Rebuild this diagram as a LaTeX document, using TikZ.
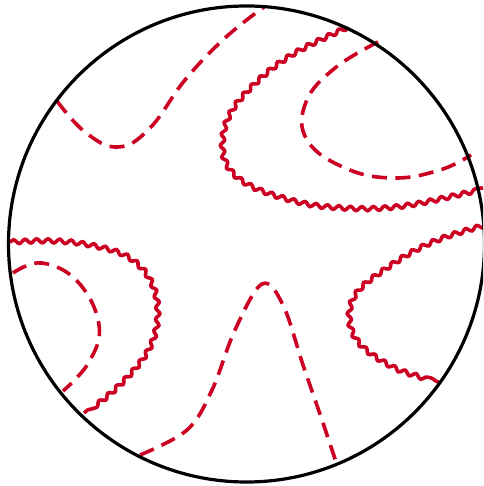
\documentclass[tikz,border=0pt]{standalone}
\usetikzlibrary{decorations.pathmorphing}
\definecolor{wred}{RGB}{204,0,34}
\begin{document}
\begin{tikzpicture}[x=1pt,y=1pt,
  rim/.style={draw=black,line width=3.2pt},
  dashline/.style={draw=wred,line width=3.6pt,dash pattern=on 15pt off 8.5pt},
  wavyline/.style={draw=wred,line width=3.6pt,decorate,decoration={snake,amplitude=2pt,segment length=11.5pt}}]
\useasboundingbox (0,0) rectangle (483,486);
\begin{scope}
\clip (0,0) rectangle (483,486);
% top-left dashed
\draw[dashline] plot[smooth,tension=0.7] coordinates {(57,385) (85,354) (118,339) (150,358) (185,406) (225,448) (264,479)};
% upper right wavy
\draw[wavyline] (348,459) to[out=205,in=44] (258,404) to[out=224,in=90] (225,341)
  to[out=270,in=164] (290,288) to[out=-16,in=177] (350,279) to[out=-3,in=192] (486,298);
% inner dashed upper right
\draw[dashline] plot[smooth,tension=0.7] coordinates {(378,444) (335,418) (306,384) (307,346) (345,318) (393,308) (440,316) (471,331)};
% left wavy
\draw[wavyline] (10,244) to[out=3,in=165] (108,236) to[out=-15,in=90] (155,174)
  to[out=270,in=45] (118,102) to[out=225,in=40] (84,73);
% left inner dashed
\draw[dashline] plot[smooth,tension=0.7] coordinates {(13,213) (42,223) (78,204) (99,161) (89,124) (63,95)};
% bottom dashed peak
\draw[dashline] plot[smooth,tension=0.6] coordinates {(140,31) (187,56) (212,96) (235,156) (262,202) (283,181) (303,121) (322,66) (337,21)};
% right wavy
\draw[wavyline] (486,261) to[out=195,in=35] (390,219) to[out=215,in=90] (352,171)
  to[out=270,in=151] (393,121) to[out=-29,in=153] (440,103);
% rim
\draw[rim] (246.5,242) circle (238);
\end{scope}
\end{tikzpicture}
\end{document}
